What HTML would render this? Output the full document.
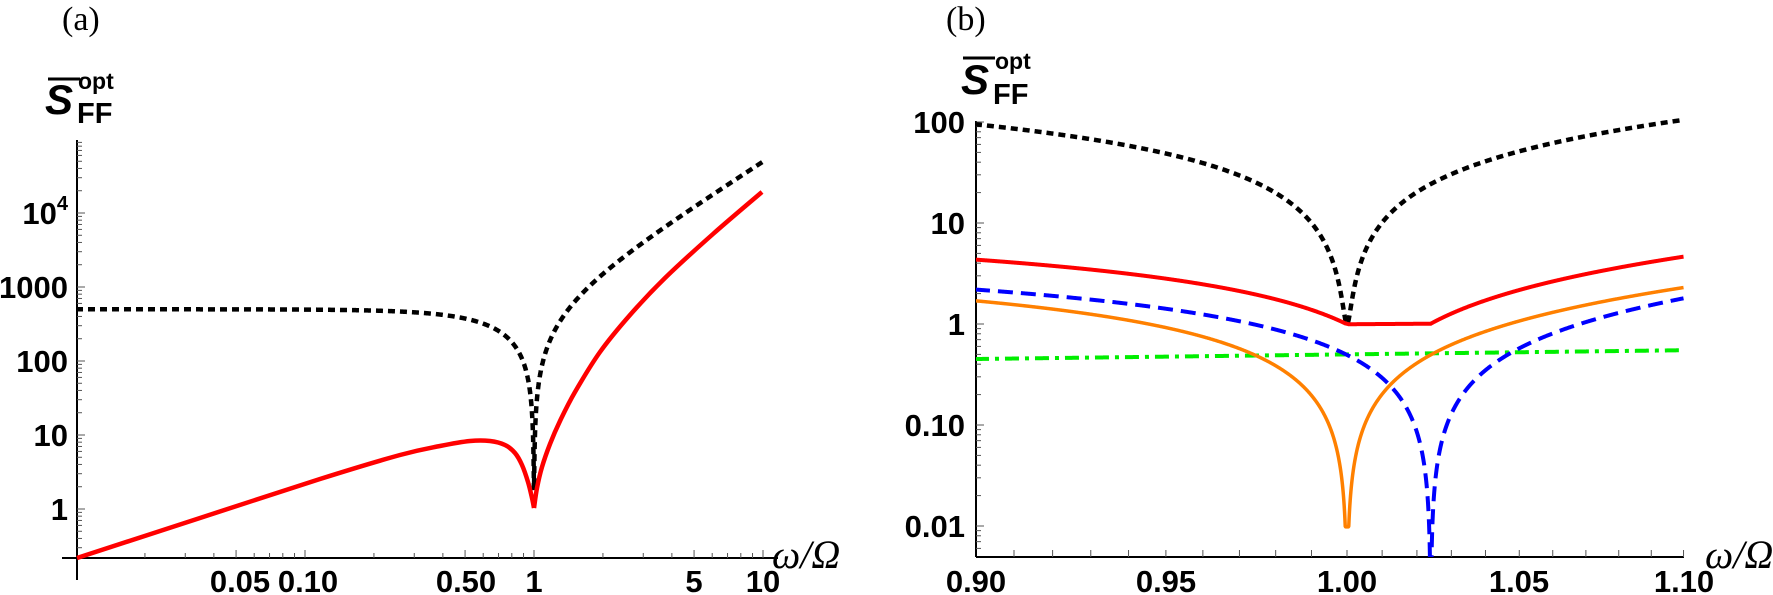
<!DOCTYPE html>
<html><head><meta charset="utf-8">
<style>
html,body{margin:0;padding:0;background:#fff;}
svg{display:block;}
text{font-family:"Liberation Sans",sans-serif;font-weight:bold;fill:#000;}
.ser{font-family:"Liberation Serif",serif;font-weight:normal;}
</style></head>
<body>
<svg id="s" width="1773" height="595" viewBox="0 0 1773 595" xmlns="http://www.w3.org/2000/svg">
<defs>
<clipPath id="cR"><rect x="976" y="100" width="710" height="457"/></clipPath>
</defs>
<g id="axes" stroke="#000" stroke-width="2" fill="none"></g>
<g id="ticks" stroke="#555" stroke-width="1" fill="none"></g>
<g id="curves" fill="none" stroke-linejoin="round"></g>

<text class="ser" x="62" y="30" font-size="34">(a)</text>
<text class="ser" x="946" y="30" font-size="34">(b)</text>

<line x1="48" y1="79" x2="80" y2="79" stroke="#000" stroke-width="3"/>
<text x="45" y="114" font-size="42" font-style="italic">S</text>
<text x="78" y="89" font-size="23">opt</text>
<text x="77" y="123" font-size="29">FF</text>

<line x1="963" y1="58" x2="995" y2="58" stroke="#000" stroke-width="3"/>
<text x="961" y="94" font-size="42" font-style="italic">S</text>
<text x="995" y="69" font-size="23">opt</text>
<text x="993" y="104" font-size="29">FF</text>

<g font-size="31" text-anchor="end">
<text x="68" y="224">10<tspan font-size="20" dy="-14">4</tspan></text>
<text x="68" y="298">1000</text>
<text x="68" y="372">100</text>
<text x="68" y="446">10</text>
<text x="68" y="520">1</text>
</g>
<g font-size="31" text-anchor="middle">
<text x="240" y="592">0.05</text>
<text x="308" y="592">0.10</text>
<text x="466" y="592">0.50</text>
<text x="534" y="592">1</text>
<text x="694" y="592">5</text>
<text x="763" y="592">10</text>
</g>
<text x="772" y="568" font-size="40" class="ser" font-style="italic">ω/Ω</text>

<g font-size="31" text-anchor="end">
<text x="965" y="133">100</text>
<text x="965" y="234">10</text>
<text x="965" y="335">1</text>
<text x="965" y="436">0.10</text>
<text x="965" y="537">0.01</text>
</g>
<g font-size="31" text-anchor="middle">
<text x="976" y="592">0.90</text>
<text x="1166" y="592">0.95</text>
<text x="1347" y="592">1.00</text>
<text x="1519" y="592">1.05</text>
<text x="1684" y="592">1.10</text>
</g>
<text x="1705" y="568" font-size="40" class="ser" font-style="italic">ω/Ω</text>
</svg>
<script>
(function(){
var NS="http://www.w3.org/2000/svg";
function el(p,tag,attrs){var e=document.createElementNS(NS,tag);for(var k in attrs)e.setAttribute(k,attrs[k]);document.getElementById(p).appendChild(e);return e;}
function line(p,x1,y1,x2,y2){return el(p,'line',{x1:x1,y1:y1,x2:x2,y2:y2});}
var lg=Math.log10;
function LX(w){return 534+229*lg(w);}
function LY(v){return 509-74*lg(v);}
function RX(w){return 1347+8130*lg(w);}
function RY(v){return 324-101*lg(v);}
line('axes',62,558,778,558);
line('axes',77,140,77,580);
line('axes',976,121,976,557);
line('axes',976,557,1684,557);
var d,m,i;
for(d=-1;d<=4;d++){for(m=1;m<=9;m++){var v=m*Math.pow(10,d);var y=LY(v);if(y<140||y>557)continue;line('ticks',77,y,m==1?85:82,y);}}
for(d=-2;d<=1;d++){for(m=1;m<=9;m++){var w=m*Math.pow(10,d);if(w>10.01)continue;var x=LX(w);if(x<78)continue;line('ticks',x,558,x,m==1||m==5?550:553);}}
for(d=-3;d<=2;d++){for(m=1;m<=9;m++){var v=m*Math.pow(10,d);var y=RY(v);if(y<121||y>556)continue;line('ticks',976,y,m==1?984:981,y);}}
for(i=1;i<=20;i++){var x=RX(0.9+i*0.01);line('ticks',x,557,x,550);}

function pathFrom(pts){var s='';for(var i=0;i<pts.length;i++){s+=(i?'L':'M')+pts[i][0].toFixed(2)+' '+pts[i][1].toFixed(2);}return s;}
function catmull(pts){var s='M'+pts[0][0]+' '+pts[0][1];for(var i=0;i<pts.length-1;i++){var p0=pts[Math.max(0,i-1)],p1=pts[i],p2=pts[i+1],p3=pts[Math.min(pts.length-1,i+2)];
 var c1x=p1[0]+(p2[0]-p0[0])/6,c1y=p1[1]+(p2[1]-p0[1])/6,c2x=p2[0]-(p3[0]-p1[0])/6,c2y=p2[1]-(p3[1]-p1[1])/6;
 s+='C'+c1x.toFixed(2)+' '+c1y.toFixed(2)+' '+c2x.toFixed(2)+' '+c2y.toFixed(2)+' '+p2[0]+' '+p2[1];}return s;}

var pts=[],w;
var ws=[];for(i=0;i<=1500;i++){ws.push(Math.pow(10,-2+3*i/1500));}
for(i=0;i<=400;i++){ws.push(0.9+0.2*i/400);}ws.push(1);
ws.sort(function(a,b){return a-b;});
for(i=0;i<ws.length;i++){w=ws[i];var v=500*Math.sqrt(Math.pow(1-w*w,2)+0.0036*0.0036);pts.push([LX(w),LY(v)]);}
el('curves','path',{d:pathFrom(pts),stroke:'#000','stroke-width':4.5,'stroke-dasharray':'7 5'});
var rpL=[[77,558],[200,518],[320,479],[400,455],[440,446],[470,441],[490,441],[505,445],[515,453],[522,465],[528,482],[532,498],[534,508]];
var rpR=[[534,508],[537,488],[542,467],[550,444],[560,421],[575,392],[600,352],[630,315],[665,278],[713,234],[762,192]];
el('curves','path',{d:catmull(rpL),stroke:'#f00','stroke-width':4.5});
el('curves','path',{d:catmull(rpR),stroke:'#f00','stroke-width':4.5});

var g=el('curves','g',{'clip-path':'url(#cR)'});
function rpath(f,extra){var P=[];var W=[];for(var i=0;i<=2000;i++)W.push(0.9+0.2*i/2000);W.push(1);W.push(1.024);W.sort(function(a,b){return a-b;});
 for(var j=0;j<W.length;j++){var v=Math.max(f(W[j]),0.003);P.push([RX(W[j]),RY(v)]);}
 var e=document.createElementNS(NS,'path');e.setAttribute('d',pathFrom(P));for(var k in extra)e.setAttribute(k,extra[k]);g.appendChild(e);}
function orange(w){return Math.max(19.9*Math.abs(w-1)*Math.pow(w,1.5),0.0098);}
function blue(w){return 20.6*Math.abs(w-1.024)*Math.pow(w,1.44);}
function green(w){return 0.5*w;}
rpath(function(w){return 500*Math.sqrt(Math.pow(1-w*w,2)+0.002*0.002);},{stroke:'#000','stroke-width':4.5,'stroke-dasharray':'7 5'});
rpath(green,{stroke:'#00ee00','stroke-width':4,'stroke-dasharray':'14 6 4 6'});
rpath(orange,{stroke:'#ff8000','stroke-width':3.5});
rpath(blue,{stroke:'#0000ff','stroke-width':4,'stroke-dasharray':'15 8'});
rpath(function(w){return orange(w)+blue(w)+green(w);},{stroke:'#f00','stroke-width':4});
})();
</script>
</body></html>
